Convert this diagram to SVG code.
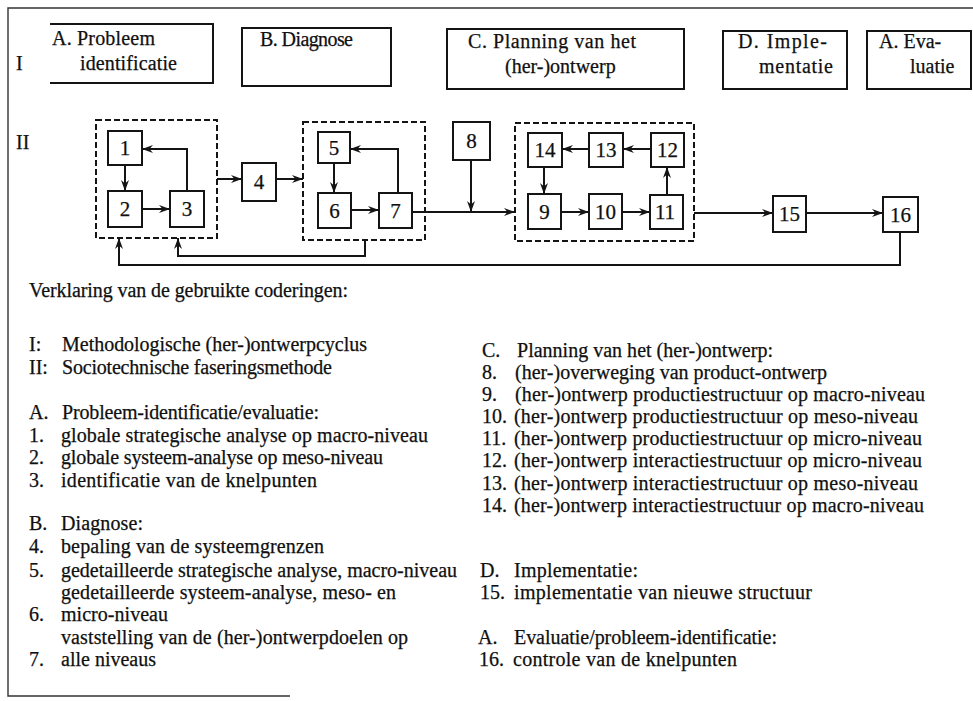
<svg xmlns="http://www.w3.org/2000/svg" width="973" height="701" viewBox="0 0 973 701" font-family="'Liberation Serif', 'Times New Roman', serif">
  <style>
    text { font-family: "Liberation Serif", "Times New Roman", serif; fill: #101010; stroke: #101010; stroke-width: 0.25; }
    .lbl { font-size: 20px; }
    .num { font-size: 21px; text-anchor: middle; }
    .txt { font-size: 20px; }
    .box { fill: #fff; stroke: #141414; stroke-width: 2; }
    .open { fill: none; stroke: #141414; stroke-width: 2; }
    .group { fill: none; stroke: #141414; stroke-width: 2; stroke-dasharray: 6 3; }
    .frame { fill: none; stroke: #333; stroke-width: 1.4; }
    .conn { fill: none; stroke: #141414; stroke-width: 2; }
    .arr { marker-end: url(#head); }
  </style>
  <defs>
    <marker id="head" markerUnits="userSpaceOnUse" markerWidth="12" markerHeight="9" refX="11" refY="4.5" orient="auto">
      <path d="M0,0.5 L11,4.5 L0,8.5 L3.5,4.5 z" fill="#141414"/>
    </marker>
  </defs>

  <rect width="973" height="701" fill="#fff"/>

  <!-- outer frame -->
  <path class="frame" d="M973,8 H8 V696 H290"/>

  <!-- row labels -->
  <text class="lbl" x="16" y="70">I</text>
  <text class="lbl" x="16" y="149">II</text>

  <!-- row I: phases -->
  <g id="phase-a">
    <path class="open" d="M50,24 H213 V83 H50"/>
    <text class="lbl" x="52" y="45" textLength="103">A. Probleem</text>
    <text class="lbl" x="80" y="70" textLength="97">identificatie</text>
  </g>
  <g id="phase-b">
    <rect class="box" x="242" y="28" width="149" height="58"/>
    <text class="lbl" x="260" y="46" textLength="93">B. Diagnose</text>
  </g>
  <g id="phase-c">
    <rect class="box" x="447" y="29" width="237" height="60"/>
    <text class="lbl" x="468" y="48" textLength="168">C. Planning van het</text>
    <text class="lbl" x="505" y="73">(her-)ontwerp</text>
  </g>
  <g id="phase-d">
    <rect class="box" x="723" y="31" width="124" height="58"/>
    <text class="lbl" x="738" y="48" textLength="89">D. Imple-</text>
    <text class="lbl" x="759" y="73" textLength="74">mentatie</text>
  </g>
  <g id="phase-e">
    <rect class="box" x="867" y="31" width="104" height="58"/>
    <text class="lbl" x="879" y="48">A. Eva-</text>
    <text class="lbl" x="910" y="73">luatie</text>
  </g>

  <!-- row II: dashed groupings -->
  <rect class="group" x="96" y="120" width="121" height="118"/>
  <rect class="group" x="303" y="122" width="122" height="118"/>
  <rect class="group" x="515" y="123" width="179" height="118"/>

  <!-- connectors -->
  <g id="connectors">
    <path class="conn arr" d="M125,165 V191"/>
    <path class="conn arr" d="M142,209 H170"/>
    <path class="conn arr" d="M187,191 V149 H142"/>
    <path class="conn arr" d="M217,179 H242"/>
    <path class="conn arr" d="M276,179 H303"/>
    <path class="conn arr" d="M334,163 V193"/>
    <path class="conn arr" d="M351,210 H379"/>
    <path class="conn arr" d="M398,193 V149 H350"/>
    <path class="conn arr" d="M412,212 H515"/>
    <path class="conn arr" d="M471,160 V212"/>
    <path class="conn arr" d="M544,167 V194"/>
    <path class="conn arr" d="M561,212 H589"/>
    <path class="conn arr" d="M622,212 H650"/>
    <path class="conn arr" d="M667,195 V167"/>
    <path class="conn arr" d="M651,149 H623"/>
    <path class="conn arr" d="M589,149 H562"/>
    <path class="conn arr" d="M694,213 H773"/>
    <path class="conn arr" d="M806,213 H883"/>
    <path class="conn arr" d="M900,232 V265 H119 V238"/>
    <path class="conn arr" d="M365,240 V256 H178 V238"/>
  </g>

  <!-- row II: steps -->
  <g id="n1"><rect class="box" x="108" y="131" width="34" height="34"/><text class="num" x="125" y="155">1</text></g>
  <g id="n2"><rect class="box" x="108" y="191" width="34" height="36"/><text class="num" x="125" y="216">2</text></g>
  <g id="n3"><rect class="box" x="170" y="191" width="34" height="36"/><text class="num" x="187" y="216">3</text></g>
  <g id="n4"><rect class="box" x="242" y="163" width="34" height="38"/><text class="num" x="259" y="189">4</text></g>
  <g id="n5"><rect class="box" x="318" y="132" width="32" height="31"/><text class="num" x="334" y="155">5</text></g>
  <g id="n6"><rect class="box" x="318" y="193" width="33" height="35"/><text class="num" x="334.5" y="218">6</text></g>
  <g id="n7"><rect class="box" x="379" y="193" width="33" height="35"/><text class="num" x="395.5" y="218">7</text></g>
  <g id="n8"><rect class="box" x="453" y="122" width="37" height="38"/><text class="num" x="471.5" y="148">8</text></g>
  <g id="n14"><rect class="box" x="528" y="133" width="34" height="34"/><text class="num" x="545" y="157">14</text></g>
  <g id="n13"><rect class="box" x="589" y="133" width="34" height="34"/><text class="num" x="606" y="157">13</text></g>
  <g id="n12"><rect class="box" x="651" y="133" width="33" height="34"/><text class="num" x="667.5" y="157">12</text></g>
  <g id="n9"><rect class="box" x="528" y="194" width="33" height="35"/><text class="num" x="544.5" y="219">9</text></g>
  <g id="n10"><rect class="box" x="589" y="194" width="33" height="35"/><text class="num" x="605.5" y="219">10</text></g>
  <g id="n11"><rect class="box" x="650" y="195" width="33" height="34"/><text class="num" x="665" y="219">11</text></g>
  <g id="n15"><rect class="box" x="773" y="196" width="33" height="36"/><text class="num" x="789.5" y="221">15</text></g>
  <g id="n16"><rect class="box" x="883" y="197" width="35" height="35"/><text class="num" x="900.5" y="222">16</text></g>

  <!-- legend, left column -->
  <g id="legend-left">
    <text class="txt" x="29" y="297" textLength="319">Verklaring van de gebruikte coderingen:</text>
    <text class="txt" x="29" y="351">I:</text>
    <text class="txt" x="62" y="351" textLength="305">Methodologische (her-)ontwerpcyclus</text>
    <text class="txt" x="29" y="374">II:</text>
    <text class="txt" x="62" y="374" textLength="270">Sociotechnische faseringsmethode</text>
    <text class="txt" x="29" y="419">A.</text>
    <text class="txt" x="62" y="419" textLength="257">Probleem-identificatie/evaluatie:</text>
    <text class="txt" x="29" y="442">1.</text>
    <text class="txt" x="61" y="442" textLength="367">globale strategische analyse op macro-niveau</text>
    <text class="txt" x="29" y="464">2.</text>
    <text class="txt" x="61" y="464" textLength="322">globale systeem-analyse op meso-niveau</text>
    <text class="txt" x="29" y="487">3.</text>
    <text class="txt" x="61" y="487" textLength="256">identificatie van de knelpunten</text>
    <text class="txt" x="29" y="530">B.</text>
    <text class="txt" x="61" y="530" textLength="82">Diagnose:</text>
    <text class="txt" x="29" y="553">4.</text>
    <text class="txt" x="61" y="553" textLength="263">bepaling van de systeemgrenzen</text>
    <text class="txt" x="29" y="577">5.</text>
    <text class="txt" x="61" y="577" textLength="396">gedetailleerde strategische analyse, macro-niveau</text>
    <text class="txt" x="61" y="599" textLength="335">gedetailleerde systeem-analyse, meso- en</text>
    <text class="txt" x="29" y="621">6.</text>
    <text class="txt" x="61" y="621" textLength="107">micro-niveau</text>
    <text class="txt" x="61" y="644" textLength="347">vaststelling van de (her-)ontwerpdoelen op</text>
    <text class="txt" x="29" y="666">7.</text>
    <text class="txt" x="61" y="666" textLength="95">alle niveaus</text>
  </g>

  <!-- legend, right column -->
  <g id="legend-right">
    <text class="txt" x="482" y="357">C.</text>
    <text class="txt" x="517" y="357" textLength="256">Planning van het (her-)ontwerp:</text>
    <text class="txt" x="482" y="379">8.</text>
    <text class="txt" x="515" y="379" textLength="312">(her-)overweging van product-ontwerp</text>
    <text class="txt" x="482" y="401">9.</text>
    <text class="txt" x="515" y="401" textLength="410">(her-)ontwerp productiestructuur op macro-niveau</text>
    <text class="txt" x="482" y="423">10.</text>
    <text class="txt" x="514" y="423" textLength="404">(her-)ontwerp productiestructuur op meso-niveau</text>
    <text class="txt" x="482" y="445">11.</text>
    <text class="txt" x="514" y="445" textLength="408">(her-)ontwerp productiestructuur op micro-niveau</text>
    <text class="txt" x="482" y="467">12.</text>
    <text class="txt" x="514" y="467" textLength="408">(her-)ontwerp interactiestructuur op micro-niveau</text>
    <text class="txt" x="482" y="490">13.</text>
    <text class="txt" x="514" y="490" textLength="404">(her-)ontwerp interactiestructuur op meso-niveau</text>
    <text class="txt" x="482" y="512">14.</text>
    <text class="txt" x="514" y="512" textLength="410">(her-)ontwerp interactiestructuur op macro-niveau</text>
    <text class="txt" x="480" y="577">D.</text>
    <text class="txt" x="514" y="577" textLength="124">Implementatie:</text>
    <text class="txt" x="480" y="599">15.</text>
    <text class="txt" x="514" y="599" textLength="298">implementatie van nieuwe structuur</text>
    <text class="txt" x="478" y="644">A.</text>
    <text class="txt" x="514" y="644" textLength="263">Evaluatie/probleem-identificatie:</text>
    <text class="txt" x="479" y="666">16.</text>
    <text class="txt" x="513" y="666" textLength="224">controle van de knelpunten</text>
  </g>
</svg>
